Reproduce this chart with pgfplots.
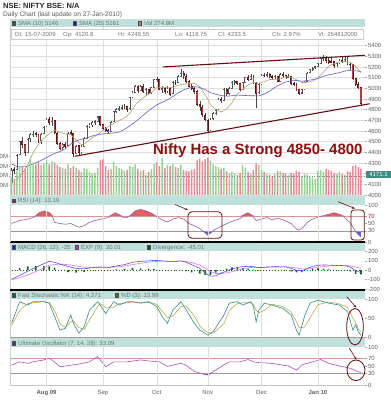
\documentclass[border=0pt]{standalone}
\usepackage{fontspec}
\setmainfont{Liberation Sans}
\usepackage{pgfplots}
\pgfplotsset{compat=1.18}
\usepackage{pgfplotstable}
\usetikzlibrary{arrows.meta}

\definecolor{band}{RGB}{191,224,219}
\definecolor{gridc}{RGB}{222,222,222}
\definecolor{labgray}{RGB}{95,95,95}
\definecolor{txtgray}{RGB}{115,115,115}
\definecolor{wick}{RGB}{70,70,70}
\definecolor{upedge}{RGB}{85,85,85}
\definecolor{downedge}{RGB}{90,20,20}
\definecolor{downfill}{RGB}{185,60,60}
\definecolor{smaten}{RGB}{185,160,105}
\definecolor{smatwf}{RGB}{95,95,205}
\definecolor{volgreen}{RGB}{150,210,150}
\definecolor{volred}{RGB}{228,140,150}
\definecolor{rsiline}{RGB}{150,90,160}
\definecolor{rsired}{RGB}{230,95,95}
\definecolor{rsiblue}{RGB}{95,95,220}
\definecolor{macdc}{RGB}{95,80,220}
\definecolor{expc}{RGB}{225,120,225}
\definecolor{divc}{RGB}{20,100,20}
\definecolor{kc}{RGB}{50,140,140}
\definecolor{dc}{RGB}{190,170,80}
\definecolor{uoc}{RGB}{170,80,190}
\definecolor{annot}{RGB}{100,15,15}
\definecolor{bigred}{RGB}{140,15,15}
\definecolor{refpink}{RGB}{215,150,150}
\definecolor{refgray}{RGB}{150,150,150}
\definecolor{boxteal}{RGB}{60,140,130}

\newcommand{\lab}{\fontsize{6}{7}\selectfont}

\pgfplotsset{
  mypanel/.style={
    scale only axis, width=355bp, anchor=south west,
    xmin=-0.6, xmax=131.5,
    xtick={13,34,54,73,93,114}, xticklabels={}, xmajorgrids,
    major grid style={draw=gridc, line width=0.4bp},
    axis line style={draw=none},
    xtick style={draw=none},
    ytick pos=right, yticklabel pos=right,
    ytick style={draw=gray!70, line width=0.4bp},
    tick align=outside, major tick length=2.2bp,
    yticklabel style={font=\lab, text=labgray, inner sep=0.6bp, anchor=west},
    /pgf/number format/assume math mode=true,
    /pgf/number format/1000 sep={},
    scaled y ticks=false,
  }
}

\pgfplotstableread{
x o h l c v
0 4121 4250 4119 4234 190
1 4240 4265 4195 4231 160
2 4235 4385 4230 4374 250
3 4380 4510 4378 4502 300
4 4505 4540 4440 4469 290
5 4470 4480 4370 4399 270
6 4400 4530 4390 4523 320
7 4525 4580 4500 4568 390
8 4570 4600 4540 4572 340
9 4575 4590 4540 4564 320
10 4565 4570 4490 4513 350
11 4510 4580 4480 4572 310
12 4575 4645 4570 4636 330
13 4640 4720 4635 4711 360
14 4712 4730 4660 4680 320
15 4680 4731 4650 4694 350
16 4695 4700 4570 4585 340
17 4580 4590 4470 4481 310
18 4480 4500 4420 4437 290
19 4440 4490 4420 4471 280
20 4472 4500 4440 4458 270
21 4460 4590 4455 4580 320
22 4582 4610 4560 4580 280
23 4575 4580 4353 4388 300
24 4390 4470 4380 4459 280
25 4460 4470 4370 4394 260
26 4395 4470 4385 4453 240
27 4455 4540 4450 4528 280
28 4530 4655 4525 4643 270
29 4645 4675 4630 4659 240
30 4660 4690 4640 4680 220
31 4682 4700 4660 4688 230
32 4690 4743 4680 4732 280
33 4735 4740 4650 4662 360
34 4660 4670 4610 4625 370
35 4625 4640 4590 4608 300
36 4605 4615 4570 4593 260
37 4595 4690 4590 4681 270
38 4685 4790 4680 4782 350
39 4785 4815 4770 4805 300
40 4806 4830 4790 4814 280
41 4815 4840 4800 4823 270
42 4825 4850 4810 4829 250
43 4830 4835 4780 4805 260
44 4806 4920 4800 4913 300
45 4915 4970 4905 4958 290
46 4960 5030 4955 5020 320
47 5022 5035 4960 4976 270
48 4978 5030 4970 5020 250
49 5020 5040 4955 4969 260
50 4970 5000 4940 4986 210
51 4985 4995 4940 4958 240
52 4960 5015 4945 5006 270
53 5008 5090 5000 5084 320
54 5085 5110 5060 5083 340
55 5080 5090 4980 4990 300
56 4992 5020 4960 5002 390
57 5000 5010 4950 4967 280
58 4968 5020 4960 5003 310
59 5002 5010 4930 4945 300
60 4948 5065 4945 5054 320
61 5055 5080 5030 5052 290
62 5055 5120 5050 5108 280
63 5110 5181 5105 5142 310
64 5140 5160 5090 5115 260
65 5115 5130 5050 5062 250
66 5062 5080 5010 5020 245
67 5020 5040 4980 4997 260
68 5000 5010 4950 4970 270
69 4972 4980 4830 4846 360
70 4848 4880 4790 4826 380
71 4825 4840 4730 4750 350
72 4750 4770 4690 4711 370
73 4700 4710 4578 4600 390
74 4605 4720 4600 4710 360
75 4712 4780 4700 4765 320
76 4766 4810 4750 4796 300
77 4800 4910 4795 4898 290
78 4900 4915 4860 4882 270
79 4885 5000 4880 4990 280
80 4992 5000 4930 4948 245
81 4950 5010 4940 4999 220
82 5000 5070 4995 5058 240
83 5060 5075 5030 5062 220
84 5062 5070 5030 5043 210
85 5045 5050 4975 4989 230
86 4990 5060 4985 5052 310
87 5055 5110 5050 5103 280
88 5105 5120 5070 5080 240
89 5082 5130 5075 5110 220
90 5112 5120 5040 5050 260
91 5045 5060 4812 4955 330
92 4958 5045 4950 5033 310
93 5035 5130 5030 5122 260
94 5124 5145 5105 5123 240
95 5125 5150 5110 5131 220
96 5130 5140 5095 5108 210
97 5108 5120 5080 5098 200
98 5098 5125 5085 5112 220
99 5110 5115 5055 5063 250
100 5065 5140 5060 5131 245
101 5132 5150 5100 5118 230
102 5118 5125 5090 5106 220
103 5106 5130 5095 5113 210
104 5112 5115 5030 5042 230
105 5045 5060 5025 5042 220
106 5040 5050 4975 4987 250
107 4985 4995 4940 4953 240
108 4955 4995 4945 4986 200
109 4988 5070 4985 5061 220
110 5062 5150 5060 5144 210
111 5146 5185 5140 5176 190
112 5178 5195 5165 5188 180
113 5190 5210 5185 5201 170
114 5205 5240 5200 5232 250
115 5235 5290 5230 5277 260
116 5280 5310 5260 5281 240
117 5282 5300 5240 5263 270
118 5265 5285 5225 5245 260
119 5250 5290 5240 5249 250
120 5250 5255 5190 5210 230
121 5212 5240 5200 5233 220
122 5235 5270 5225 5259 240
123 5260 5300 5240 5252 220
124 5255 5290 5245 5274 210
125 5275 5290 5215 5225 250
126 5228 5240 5170 5221 240
127 5220 5225 5080 5094 300
128 5095 5100 5020 5036 310
129 5035 5060 4990 5008 290
130 5005 5010 4840 4854 275
}\price

\pgfplotstableread{
x s10 s25
0 4148 4292
2 4145 4266
4 4206 4264
6 4282 4268
8 4398 4292
10 4472 4313
12 4532 4337
14 4574 4365
16 4610 4389
18 4587 4408
20 4573 4434
22 4568 4477
24 4513 4507
26 4470 4523
28 4495 4534
30 4536 4553
32 4562 4566
34 4606 4572
36 4642 4577
38 4671 4582
40 4699 4591
42 4722 4615
44 4765 4647
46 4843 4685
48 4896 4726
50 4930 4770
52 4961 4809
54 5006 4844
56 5007 4869
58 5005 4892
60 5009 4923
62 5029 4958
64 5038 4985
66 5047 5003
68 5047 5016
70 5014 5008
72 4944 4987
74 4849 4959
76 4797 4944
78 4778 4932
80 4805 4926
82 4865 4930
84 4944 4936
86 4992 4934
88 5032 4931
90 5055 4930
92 5048 4929
94 5062 4946
96 5082 4973
98 5084 5009
100 5088 5037
102 5111 5059
104 5102 5070
106 5081 5073
108 5054 5066
110 5055 5073
112 5069 5081
114 5097 5091
116 5150 5113
118 5207 5127
120 5232 5135
122 5245 5147
124 5254 5161
126 5243 5169
128 5205 5165
130 5145 5156
}\sma

\pgfplotstableread{
x r
0 50
3 58
6 62
8 66
9 71
10 78
12 84
14 80
15 72
16 53
18 50
20 48
22 50
25 40
27 44
29 53
31 58
34 63
36 66
37 72
38.5 79
40 74
41.5 66
43 66
44 71
46 84
48 88
50 84
52 78
54 68
56 60
58 54
60 62
62 66
64 62
66 50
68 44
70 36
71.5 28
73 18
74 24
75.5 33
77.5 40
79 46
81 53
83 58
85 63
87 76
88 79
89.5 72
91 58
93 62
95 66
97 60
99 64
101 60
102.5 55
104 50
106 35
107 32
108.5 40
110 53
112 62
113.5 66
116 71
118 75
120 79
122 75
123.5 70
125 58
126 53
127 40
128 28
129 20
130 13.19
}\rsi

\pgfplotstableread{
x m s d
0 -95 -100 5
3 -55 -80 25
6 -10 -50 40
9 30 -15 45
12 70 25 45
14 95 55 40
16 85 60 25
18 65 65 0
21 40 60 -20
24 20 45 -25
27 15 32 -17
30 28 28 0
33 35 30 5
36 30 31 -1
39 45 36 9
42 60 45 15
45 85 60 25
48 95 75 20
51 100 85 15
53 105 92 13
56 100 97 3
58 95 97 -2
61 95 96 -1
63 100 97 3
65 85 93 -8
67 60 82 -22
70 20 55 -35
72 -30 20 -50
74 -63 -15 -48
76 -60 -35 -25
78 -30 -35 5
80 -10 -28 18
82 15 -15 30
84 30 0 30
86 38 15 23
88 42 25 17
90 38 31 7
92 28 31 -3
94 32 31 1
96 36 33 3
98 38 35 3
100 36 35 1
102 36 36 0
104 20 32 -12
106 0 23 -23
108 -5 14 -19
110 18 14 4
112 42 22 20
114 52 31 21
116 56 39 17
118 55 45 10
120 52 48 4
122 52 50 2
124 48 50 -2
126 35 46 -11
128 -5 33 -38
130 -25 20.01 -45.01
}\macd

\pgfplotstableread{
x k d
0 36 30
3 93 70
6 84 88
8 93 90
12 93 93
14 89 91
16 54 70
18 18 35
20 23 25
22 58 40
23 36 42
25 10 25
27 27 20
29 71 45
32 93 80
33 84 88
35 62 78
38 93 78
40 84 88
43 93 90
45 93 92
48 89 90
51 93 91
54 80 86
56 54 68
58 36 50
60 71 55
63 93 80
65 71 82
68 36 55
70 18 30
71 14 22
73 5 12
75 14 10
79 58 35
81 89 70
84 93 88
86 84 90
89 93 90
90 80 86
91 40 70
92 71 64
94 89 70
97 84 86
101 75 80
104 58 66
106 18 40
107 5 25
109 54 26
111 89 50
114 97 85
118 89 92
122 84 87
125 67 78
127 18 50
128 32 38
129 14 21
130 4.271 13.99
}\stoch

\pgfplotstableread{
x u
0 52
3 61
6 57
8 61
12 66
14 70
15 66
18 48
22 52
25 55
29 61
32 75
33 66
35 48
38 61
43 61
48 66
50 64
55 61
58 49
63 57
65 52
66 46
68 36
70 31
73 26
75 35
79 53
81 61
85 61
88 67
90 61
92 59
97 57
103 50
106 39
108 53
112 61
115 67
118 57
122 50
126 44
129 35
130 33.09
}\uo

\begin{document}
\begin{tikzpicture}
\useasboundingbox (0,0) rectangle (391bp,400bp);
\begin{scope}[x=1bp,y=1bp]
\fill[white] (0,0) rectangle (391,400);
\fill[band] (10,373) rectangle (365,381);
\fill[band] (10,195) rectangle (365,205);
\fill[band] (10,149) rectangle (365,157.2);
\fill[band] (10,101) rectangle (365,109.2);
\fill[band] (10,53) rectangle (365,61.5);
\end{scope}

% ---------------- price panel ----------------
\begin{axis}[mypanel, at={(10bp,205bp)}, height=168bp, ymin=4000, ymax=5574.5,
  ytick={4000,4100,4200,4300,4400,4500,4600,4700,4800,4900,5000,5100,5200,5300,5400},
  yticklabels={4000,4100,{},4300,4400,4500,4600,4700,4800,4900,5000,5100,5200,5300,5400},
  ymajorgrids, clip=false]
\addplot[draw=none, mark=none, error bars/.cd, y dir=plus, y explicit, error mark=none,
  error bar style={draw=wick, line width=0.45bp}]
  table[x=x, y=l, y error plus expr={\thisrow{h}-\thisrow{l}}] {\price};
\addplot[draw=none, mark=none, restrict expr to domain={\thisrow{o}-\thisrow{c}}{0:100000},
  error bars/.cd, y dir=both, y explicit, error mark=none,
  error bar style={draw=downedge, line width=1.9bp}]
  table[x=x, y expr={(\thisrow{o}+\thisrow{c})/2}, y error expr={(\thisrow{o}-\thisrow{c})/2+4}] {\price};
\addplot[draw=none, mark=none, restrict expr to domain={\thisrow{o}-\thisrow{c}}{0:100000},
  error bars/.cd, y dir=both, y explicit, error mark=none,
  error bar style={draw=downfill, line width=1.1bp}]
  table[x=x, y expr={(\thisrow{o}+\thisrow{c})/2}, y error expr={max((\thisrow{o}-\thisrow{c})/2-5,0)}] {\price};
\addplot[draw=none, mark=none, restrict expr to domain={\thisrow{c}-\thisrow{o}}{0:100000},
  error bars/.cd, y dir=both, y explicit, error mark=none,
  error bar style={draw=upedge, line width=1.9bp}]
  table[x=x, y expr={(\thisrow{o}+\thisrow{c})/2}, y error expr={(\thisrow{c}-\thisrow{o})/2+4}] {\price};
\addplot[draw=none, mark=none, restrict expr to domain={\thisrow{c}-\thisrow{o}}{0:100000},
  error bars/.cd, y dir=both, y explicit, error mark=none,
  error bar style={draw=white, line width=1.0bp}]
  table[x=x, y expr={(\thisrow{o}+\thisrow{c})/2}, y error expr={max((\thisrow{c}-\thisrow{o})/2-6,0)}] {\price};
\addplot[smaten, line width=0.6bp, mark=none] table[x=x, y=s10] {\sma};
\addplot[smatwf, line width=0.6bp, mark=none] table[x=x, y=s25] {\sma};
\addplot[annot, line width=1.1bp, mark=none] coordinates {(56.3,5200) (131.5,5309)};
\addplot[annot, line width=1.1bp, mark=none] coordinates {(23.5,4363) (133.2,4855)};
\end{axis}

% ---------------- volume overlay ----------------
\begin{axis}[mypanel, at={(10bp,205bp)}, height=168bp, ymin=0, ymax=1750, xmajorgrids=false,
  ytick pos=left, yticklabel pos=left, ytick={100,200,300,400},
  yticklabels={0M,0M,0M,0M},
  yticklabel style={anchor=east}, ytick style={draw=gray!60}, major tick length=1.2bp]
\addplot[ybar, bar shift=0pt, bar width=1.5bp, fill=volgreen, draw=none,
  restrict expr to domain={\thisrow{c}-\thisrow{o}}{0:100000}] table[x=x, y=v] {\price};
\addplot[ybar, bar shift=0pt, bar width=1.5bp, fill=volred, draw=none,
  restrict expr to domain={\thisrow{o}-\thisrow{c}}{0:100000}] table[x=x, y=v] {\price};
\addplot[gray, dotted, line width=0.5bp, mark=none] coordinates {(-0.6,190.1) (131.5,190.1)};
\end{axis}

% ---------------- RSI ----------------
\begin{axis}[mypanel, at={(10bp,158bp)}, height=37bp, ymin=0, ymax=100, axis on top,
  ytick={0,30,50,70,100}, yticklabels={0,30,50,{\color{red!75!black}70},100}]
\addplot[fill=rsired, draw=none, mark=none] table[x=x, y expr={max(\thisrow{r},70)}] {\rsi} \closedcycle;
\addplot[fill=white, draw=none, mark=none] coordinates {(-0.6,70) (131.5,70)} \closedcycle;
\addplot[fill=rsiblue, draw=none, mark=none] coordinates {(0,30) (130,30)} \closedcycle;
\addplot[fill=white, draw=none, mark=none] table[x=x, y expr={min(\thisrow{r},30)}] {\rsi} \closedcycle;
\addplot[refpink, line width=0.5bp, mark=none] coordinates {(-0.6,70) (131.5,70)};
\addplot[refgray, line width=0.5bp, mark=none] coordinates {(-0.6,30) (131.5,30)};
\addplot[rsiline, line width=0.6bp, mark=none] table[x=x, y=r] {\rsi};
\end{axis}

% ---------------- MACD ----------------
\begin{axis}[mypanel, at={(10bp,110.5bp)}, height=38.5bp, ymin=-205, ymax=205,
  ytick={-200,-100,0,100,200}]
\addplot[divc, dotted, line width=0.9bp, mark=none] coordinates {(0,0) (130,0)};
\addplot[ybar, bar shift=0pt, bar width=1.6bp, fill=divc, draw=none] table[x=x, y=d] {\macd};
\addplot[expc, line width=0.6bp, mark=none] table[x=x, y=s] {\macd};
\addplot[macdc, line width=0.6bp, mark=none] table[x=x, y=m] {\macd};
\end{axis}

% ---------------- Stochastic ----------------
\begin{axis}[mypanel, at={(10bp,63bp)}, height=38bp, ymin=0, ymax=100,
  ytick={0,50,100}]
\addplot[dc, line width=0.6bp, mark=none] table[x=x, y=d] {\stoch};
\addplot[kc, line width=0.6bp, mark=none] table[x=x, y=k] {\stoch};
\end{axis}

% ---------------- Ultimate Oscillator ----------------
\begin{axis}[mypanel, at={(10bp,15bp)}, height=38bp, ymin=0, ymax=100, axis on top,
  ytick={0,30,50,70,100},
  xticklabels={\textbf{Aug 09},Sep,Oct,Nov,Dec,\textbf{Jan 10}},
  xticklabel style={font=\lab, text=labgray, anchor=base, yshift=-7bp}]
\addplot[fill=rsiblue, draw=none, mark=none] coordinates {(0,30) (130,30)} \closedcycle;
\addplot[fill=white, draw=none, mark=none] table[x=x, y expr={min(\thisrow{u},30)}] {\uo} \closedcycle;
\addplot[refpink, line width=0.5bp, mark=none] coordinates {(-0.6,70) (131.5,70)};
\addplot[refgray, line width=0.5bp, mark=none] coordinates {(-0.6,30) (131.5,30)};
\addplot[uoc, line width=0.6bp, mark=none] table[x=x, y=u] {\uo};
\end{axis}

% ---------------- decorations and texts ----------------
\begin{scope}[x=1bp,y=1bp]
\draw[black, line width=1.6bp] (10,158) -- (365,158);
\draw[black, line width=1.6bp] (10,110) -- (365,110);
\draw[gray!75, line width=1.5bp] (10,62.5) -- (365,62.5);
\draw[gray!45, line width=0.5bp] (10,15) -- (365,15);
\draw[gray!40, line width=0.4bp] (10,15) -- (10,53) (10,63) -- (10,101) (10,110.5) -- (10,149) (10,158) -- (10,195) (10,205) -- (10,373);

\node[anchor=base west, inner sep=0, text=black!85] at (3,391) {\fontsize{7.5}{8}\selectfont\bfseries NSE: NIFTY BSE: N/A};
\node[anchor=base west, inner sep=0, text=black!65] at (3,383.5) {\fontsize{6.6}{7}\selectfont Daily Chart (last update on 27-Jan-2010)};

\filldraw[fill={rgb,255:red,110;green,75;blue,30}, draw=black!70, line width=0.3bp] (12,375) rectangle ++(3.5,3.5);
\node[anchor=base west, inner sep=0, text=txtgray] at (18,375) {\lab SMA (10) 5146};
\filldraw[fill={rgb,255:red,30;green,30;blue,200}, draw=black!70, line width=0.3bp] (73,375) rectangle ++(3.5,3.5);
\node[anchor=base west, inner sep=0, text=txtgray] at (79,375) {\lab SMA (25) 5161};
\filldraw[fill={rgb,255:red,215;green,110;blue,125}, draw=black!70, line width=0.3bp] (138,375) rectangle ++(3.5,3.5);
\node[anchor=base west, inner sep=0, text=txtgray] at (144,375) {\lab Vol 274.8M};

\filldraw[fill=white, draw=gray!40, line width=0.5bp] (11,361) rectangle (363,371);
\node[anchor=base west, inner sep=0, text=txtgray] at (15,363.6) {\lab Dt: 15-07-2009};
\node[anchor=base west, inner sep=0, text=txtgray] at (63,363.6) {\lab Op: 4120.8};
\node[anchor=base west, inner sep=0, text=txtgray] at (118,363.6) {\lab Hi: 4249.55};
\node[anchor=base west, inner sep=0, text=txtgray] at (175,363.6) {\lab Lo: 4118.75};
\node[anchor=base west, inner sep=0, text=txtgray] at (218,363.6) {\lab Cl: 4233.5};
\node[anchor=base west, inner sep=0, text=txtgray] at (272,363.6) {\lab Ch: 2.97\%};
\node[anchor=base west, inner sep=0, text=txtgray] at (318,363.6) {\lab Vl: 254612000};

\node[anchor=base west, inner sep=0, text=bigred] at (153,246) {\fontsize{15}{16}\selectfont\bfseries Nifty Has a Strong 4850- 4800};

\fill[boxteal] (366,222) rectangle (391,228.5);
\node[anchor=center, inner sep=0, text=white] at (378.5,225.2) {\lab 4171.1};

\filldraw[fill={rgb,255:red,120;green,40;blue,120}, draw=black!70, line width=0.3bp] (12,197.5) rectangle ++(3.5,3.5);
\node[anchor=base west, inner sep=0, text=txtgray] at (18,197.5) {\lab RSI (14): 13.19};

\filldraw[fill={rgb,255:red,30;green,30;blue,200}, draw=black!70, line width=0.3bp] (12,151) rectangle ++(3.5,3.5);
\node[anchor=base west, inner sep=0, text=txtgray] at (18,151) {\lab MACD (26, 12): -25};
\filldraw[fill={rgb,255:red,210;green,40;blue,210}, draw=black!70, line width=0.3bp] (75,151) rectangle ++(3.5,3.5);
\node[anchor=base west, inner sep=0, text=txtgray] at (81,151) {\lab EXP (9): 20.01};
\filldraw[fill={rgb,255:red,15;green,90;blue,15}, draw=black!70, line width=0.3bp] (147,151) rectangle ++(3.5,3.5);
\node[anchor=base west, inner sep=0, text=txtgray] at (153,151) {\lab Divergence: -45.01};

\filldraw[fill={rgb,255:red,25;green,90;blue,95}, draw=black!70, line width=0.3bp] (12,103) rectangle ++(3.5,3.5);
\node[anchor=base west, inner sep=0, text=txtgray] at (18,103) {\lab Fast Stochastic \%K (14): 4.271};
\filldraw[fill={rgb,255:red,110;green,105;blue,20}, draw=black!70, line width=0.3bp] (115,103) rectangle ++(3.5,3.5);
\node[anchor=base west, inner sep=0, text=txtgray] at (121,103) {\lab \%D (3): 13.99};

\filldraw[fill={rgb,255:red,130;green,30;blue,140}, draw=black!70, line width=0.3bp] (12,55) rectangle ++(3.5,3.5);
\node[anchor=base west, inner sep=0, text=txtgray] at (18,55) {\lab Ultimate Oscillator (7, 14, 28): 33.09};

\draw[annot, line width=0.8bp, rounded corners=4bp] (188,161.7) rectangle (222,188.3);
\draw[annot, line width=0.6bp, -{Stealth[length=3bp,width=2.4bp]}] (175,195.5) -- (188,190);
\draw[annot, line width=0.8bp, rounded corners=3bp] (351,160) rectangle (364.3,190);
\draw[annot, line width=0.6bp, -{Stealth[length=3bp,width=2.4bp]}] (338,198.3) -- (355,191.5);
\draw[annot, line width=0.8bp] (355,73.3) ellipse [x radius=8.3, y radius=18.3];
\draw[annot, line width=0.6bp, -{Stealth[length=3bp,width=2.4bp]}] (346.7,103.3) -- (356.2,92.5);
\draw[annot, line width=0.8bp] (356,29.7) ellipse [x radius=9, y radius=10.3];
\draw[annot, line width=0.6bp, -{Stealth[length=3bp,width=2.4bp]}] (349.3,51.7) -- (356.5,40.3);
\end{scope}
\end{tikzpicture}
\end{document}
